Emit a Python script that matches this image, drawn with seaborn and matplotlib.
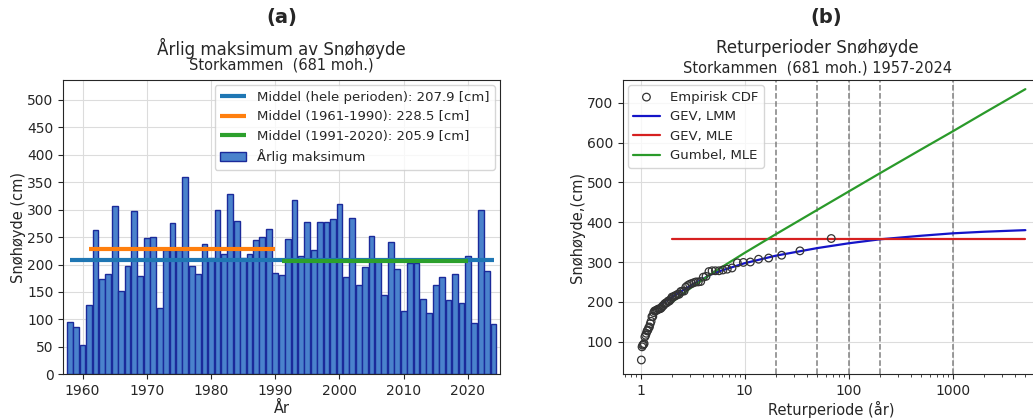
import numpy as np
import pandas as pd
import matplotlib
matplotlib.use('Agg')
import matplotlib.pyplot as plt
from matplotlib.ticker import ScalarFormatter
import seaborn as sns

# Annual maximum snow depth, Storkammen (cm)
years = list(range(1958, 2025))
snow = [95, 87, 54, 127, 262, 173, 182, 307, 151, 198,
        298, 179, 248, 250, 121, 227, 276, 227, 359, 197,
        182, 237, 212, 300, 219, 328, 280, 212, 219, 244,
        250, 264, 185, 180, 246, 317, 216, 278, 226, 278,
        278, 282, 310, 177, 285, 163, 195, 251, 206, 145,
        241, 191, 116, 202, 202, 137, 112, 163, 177, 135,
        183, 129, 215, 93, 299, 189, 91]

mean_all = 207.9
mean_6190 = 228.5
mean_9120 = 205.9

# Fitted return level curves
T_lmm = [1.6, 2, 3, 5, 10, 20, 50, 100, 200, 500, 1000, 2000, 5000]
gev_lmm = [197, 212, 240, 272, 297, 316, 335, 347, 357, 366, 372, 376, 380]
T_mle = [2, 5000]
gev_mle = [357, 357]
T_gum = [2, 3, 5, 10, 20, 50, 100, 200, 500, 1000, 2000, 5000]
gumbel = [199, 234, 274, 323, 370, 431, 477, 523, 583, 628, 674, 734]
vlines_T = [20, 50, 100, 200, 1000]

df = pd.DataFrame({'År': years, 'Snø': snow})

sns.set_style('ticks')
plt.rcParams['font.family'] = ['DejaVu Sans']

fig = plt.figure(figsize=(10.33, 4.18), dpi=100)
ax1 = fig.add_axes([0.0613, 0.1045, 0.4227, 0.7041])
ax2 = fig.add_axes([0.6028, 0.1045, 0.404, 0.7041])

grid_kw = dict(color='#dcdcdc', lw=0.8, zorder=0)

# (a) annual maxima
ax1.grid(True, **grid_kw)
ax1.set_axisbelow(True)
sns.barplot(data=df, x='År', y='Snø', native_scale=True, width=0.9,
            color='#4a82cc', saturation=1, edgecolor='#1b2a9a', linewidth=1,
            errorbar=None, label='Årlig maksimum', ax=ax1, zorder=2)
ax1.hlines(mean_all, years[0], years[-1], color='tab:blue', lw=3, zorder=3,
           label=f'Middel (hele perioden): {mean_all} [cm]')
ax1.hlines(mean_6190, 1961, 1990, color='tab:orange', lw=3, zorder=3,
           label=f'Middel (1961-1990): {mean_6190} [cm]')
ax1.hlines(mean_9120, 1991, 2020, color='tab:green', lw=3, zorder=3,
           label=f'Middel (1991-2020): {mean_9120} [cm]')
ax1.set_xlim(1957, 2025)
ax1.set_ylim(0, 536)
ax1.set_yticks(range(0, 501, 50))
ax1.set_xticks([1960, 1970, 1980, 1990, 2000, 2010, 2020])
ax1.tick_params(labelsize=10)
ax1.set_xlabel('År', fontsize=10.5, labelpad=2)
ax1.set_ylabel('Snøhøyde (cm)', fontsize=10.5, labelpad=1)
h, l = ax1.get_legend_handles_labels()
order = [l.index(s) for s in l if s.startswith('Middel')] + [l.index('Årlig maksimum')]
ax1.legend([h[i] for i in order], [l[i] for i in order], loc='upper right',
           fontsize=9.5, borderaxespad=0.4)

# (b) return periods
vals = np.sort(np.array(snow))[::-1]
n = len(vals)
T_emp = (n + 1) / np.arange(1, n + 1)

ax2.set_xscale('log')
ax2.grid(True, which='major', **grid_kw)
ax2.set_axisbelow(True)
for t in vlines_T:
    ax2.axvline(t, color='#808080', ls='--', lw=1.1, zorder=1)
sns.scatterplot(x=T_emp, y=vals, marker='o', s=30, facecolor='none',
                edgecolor='#333333', linewidth=0.9, label='Empirisk CDF',
                ax=ax2, zorder=4)
sns.lineplot(x=T_lmm, y=gev_lmm, color='#1414c8', lw=1.6, label='GEV, LMM',
             ax=ax2, zorder=3)
sns.lineplot(x=T_mle, y=gev_mle, color='#d62020', lw=1.6, label='GEV, MLE',
             ax=ax2, zorder=3)
sns.lineplot(x=T_gum, y=gumbel, color='#2a9a2a', lw=1.6, label='Gumbel, MLE',
             ax=ax2, zorder=3)
ax2.set_xlim(10 ** -0.173, 10 ** 3.84)
ax2.set_ylim(18, 757)
ax2.set_yticks(range(100, 701, 100))
ax2.set_xticks([1, 10, 100, 1000])
ax2.xaxis.set_major_formatter(ScalarFormatter())
ax2.tick_params(labelsize=10)
ax2.set_xlabel('Returperiode (år)', fontsize=10.5, labelpad=2)
ax2.set_ylabel('Snøhøyde,(cm)', fontsize=10.5, labelpad=1)
ax2.legend(loc='upper left', fontsize=9.5, borderaxespad=0.4)

# titles
fig.text(0.2727, 0.957, '(a)', ha='center', va='center', fontsize=14, fontweight='bold')
fig.text(0.272, 0.885, 'Årlig maksimum av Snøhøyde', ha='center', va='center', fontsize=12)
fig.text(0.272, 0.845, 'Storkammen  (681 moh.)', ha='center', va='center', fontsize=10.5)
fig.text(0.80, 0.957, '(b)', ha='center', va='center', fontsize=14, fontweight='bold')
fig.text(0.791, 0.885, 'Returperioder Snøhøyde', ha='center', va='center', fontsize=12)
fig.text(0.791, 0.838, 'Storkammen  (681 moh.) 1957-2024', ha='center', va='center', fontsize=10.5)

fig.savefig('out.png', dpi=100)
